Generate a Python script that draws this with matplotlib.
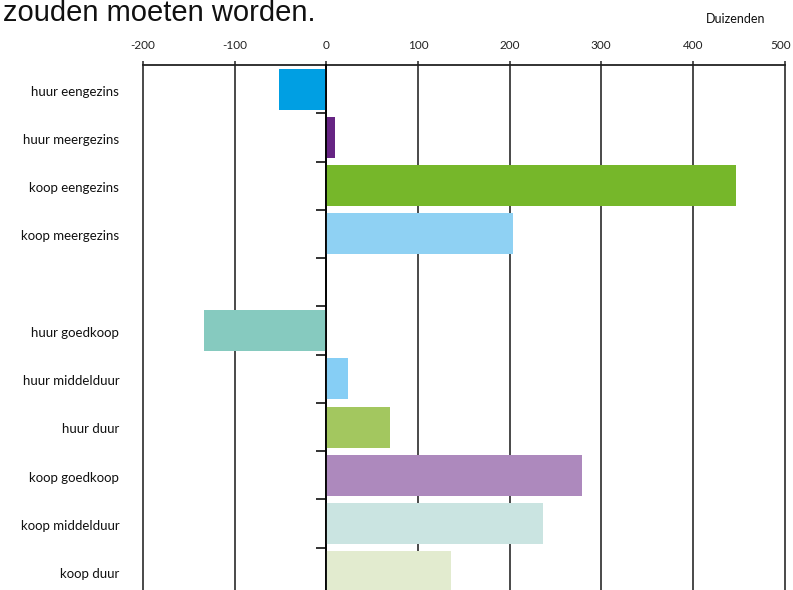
import numpy as np
import matplotlib.pyplot as plt
from matplotlib import transforms

categories = ['huur eengezins', 'huur meergezins', 'koop eengezins', 'koop meergezins',
              '',
              'huur goedkoop', 'huur middelduur', 'huur duur',
              'koop goedkoop', 'koop middelduur', 'koop duur']
values = [-52, 10, 447, 204, None, -133, 24, 69, 279, 237, 136]
colors = ['#009FE3', '#662483', '#76B72A', '#8FD1F3', None,
          '#86CABF', '#86CEF5', '#A3C75F', '#AD89BD', '#CAE4E1', '#E2EBCF']
xticks = [-200, -100, 0, 100, 200, 300, 400, 500]

fig = plt.figure(figsize=(7.93, 5.90), dpi=100)
ax = fig.add_axes([143 / 793, -6 / 590, 641.5 / 793, 531 / 590])

pos = np.arange(len(categories))
for y, v, c in zip(pos, values, colors):
    if v is None:
        continue
    ax.barh(y, v, height=0.85, color=c, zorder=3)

ax.set_xlim(-200, 500)
ax.set_ylim(len(categories) - 0.5, -0.5)

# x axis on top
ax.xaxis.tick_top()
ax.set_xticks(xticks)
ax.set_xticklabels([str(t) for t in xticks], fontsize=8.5, family='Lato', color='#222222')
ax.tick_params(axis='x', length=3, width=1.2, color='#333333', pad=7)
ax.grid(axis='x', color='#3a3a3a', linewidth=1.3, zorder=1)
for gl in ax.get_xgridlines():
    gl.set_clip_on(False)

# keep the last tick label inside the figure
last = ax.get_xticklabels()[-1]
last.set_transform(last.get_transform() +
                   transforms.ScaledTranslation(-4 / 100, 0, fig.dpi_scale_trans))

# y axis sits at zero, ticks between categories
ax.spines['left'].set_position(('data', 0))
ax.spines['left'].set_linewidth(1.3)
ax.spines['left'].set_zorder(4)
ax.spines['right'].set_visible(False)
ax.spines['bottom'].set_visible(False)
ax.spines['top'].set_linewidth(1.3)
ax.spines['top'].set_color('#222222')
ax.set_yticks(np.arange(0.5, len(categories) - 1, 1.0))
ax.set_yticklabels([])
ax.tick_params(axis='y', length=7, width=1.3, color='#222222')

trans = transforms.blended_transform_factory(ax.transAxes, ax.transData)
for y, name in zip(pos, categories):
    if name:
        ax.text(-0.037, y + 0.05, name, transform=trans, ha='right', va='center',
                fontsize=9.5, family='Lato', color='#111111')

fig.text(736 / 793, 1 - 19 / 590, 'Duizenden', ha='center', va='center',
         fontsize=9, family='Lato', color='#111111')
fig.text(3 / 793, 1 - 21 / 590, 'zouden moeten worden.', ha='left', va='baseline',
         fontsize=21, family='Liberation Sans', color='#111111')

fig.savefig('out.png', dpi=100)
